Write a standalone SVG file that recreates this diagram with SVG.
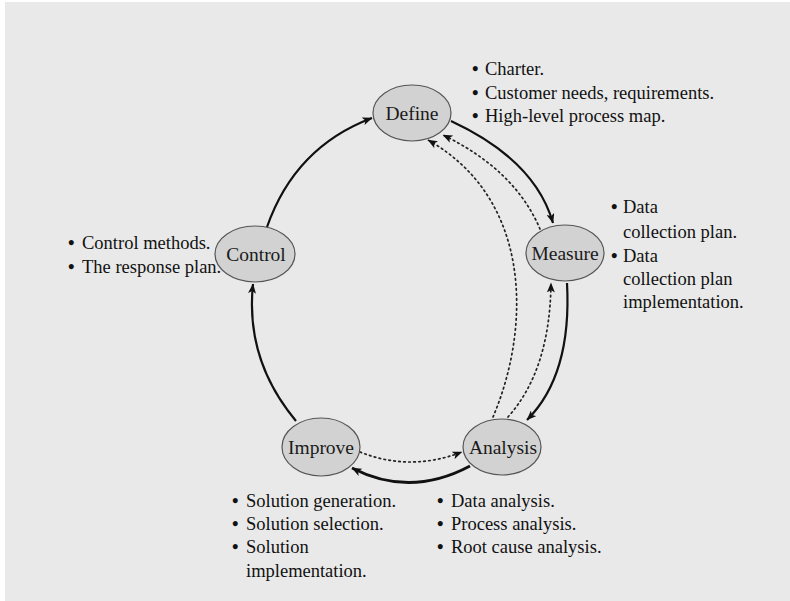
<svg xmlns="http://www.w3.org/2000/svg" width="790" height="601" viewBox="0 0 790 601">
  <defs>
    <marker id="arrow" viewBox="0 0 10 8" refX="9.5" refY="4" markerWidth="10" markerHeight="8" markerUnits="userSpaceOnUse" orient="auto">
      <path d="M0,0 L10,4 L0,8 L2.5,4 Z" fill="#111"/>
    </marker>
  </defs>
  <style>
    .bg { fill: #e9e9e9; }
    .node ellipse { fill: #d2d2d2; stroke: #555; stroke-width: 1.2; }
    .node text { font-family: "Liberation Serif", "DejaVu Serif", serif; font-size: 19.5px; fill: #1a1a1a; text-anchor: middle; }
    .notes text { font-family: "Liberation Serif", "DejaVu Serif", serif; font-size: 18.5px; fill: #111; }
    .notes text.b { font-size: 18.5px; font-weight: bold; }
    .solid { fill: none; stroke: #111; stroke-width: 2.2; marker-end: url(#arrow); }
    .dotted { fill: none; stroke: #222; stroke-width: 1.7; stroke-dasharray: 1.6 3.4; stroke-linecap: round; marker-end: url(#arrow); }
  </style>

  <rect x="0" y="0" width="790" height="601" fill="#ffffff"/>
  <rect class="bg" x="5" y="2" width="785" height="599"/>

  <!-- connectors -->
  <g id="connectors">
    <path class="solid" d="M267 227 Q295 147 372 118"/>
    <path class="solid" d="M451 121 Q535 160 553 223"/>
    <path class="solid" d="M567 283 Q572 375 527 420"/>
    <path class="solid" style="stroke-width:2.8" d="M470 466 Q410 498 352 468"/>
    <path class="solid" d="M296 421 Q245 360 253 284"/>
    <path class="dotted" d="M540 229 Q515 170 443 135"/>
    <path class="dotted" d="M493 417 C530 330 534 200 428 140"/>
    <path class="dotted" d="M508 417 Q550 370 551 283"/>
    <path class="dotted" d="M360 452 Q410 472 462 452"/>
  </g>

  <!-- nodes -->
  <g id="define" class="node">
    <ellipse cx="412" cy="113" rx="39" ry="28"/>
    <text x="412" y="120">Define</text>
  </g>
  <g id="measure" class="node">
    <ellipse cx="565" cy="253" rx="39" ry="28"/>
    <text x="565" y="260">Measure</text>
  </g>
  <g id="analysis" class="node">
    <ellipse cx="502" cy="447" rx="39" ry="28"/>
    <text x="503" y="454">Analysis</text>
  </g>
  <g id="improve" class="node">
    <ellipse cx="321" cy="447" rx="39" ry="29"/>
    <text x="321" y="454">Improve</text>
  </g>
  <g id="control" class="node">
    <ellipse cx="255" cy="254" rx="40" ry="28"/>
    <text x="256" y="261">Control</text>
  </g>

  <!-- notes beside each phase -->
  <g id="define-notes" class="notes">
    <text class="b" x="472" y="75">•</text><text x="485" y="75">Charter.</text>
    <text class="b" x="472" y="99">•</text><text x="485" y="99">Customer needs, requirements.</text>
    <text class="b" x="472" y="122">•</text><text x="485" y="122">High-level process map.</text>
  </g>
  <g id="measure-notes" class="notes">
    <text class="b" x="611" y="213">•</text><text x="623" y="213">Data</text>
    <text x="623" y="238">collection plan.</text>
    <text class="b" x="611" y="262">•</text><text x="623" y="262">Data</text>
    <text x="623" y="285">collection plan</text>
    <text x="623" y="308">implementation.</text>
  </g>
  <g id="control-notes" class="notes">
    <text class="b" x="68" y="249">•</text><text x="82" y="249">Control methods.</text>
    <text class="b" x="68" y="273">•</text><text x="82" y="273">The response plan.</text>
  </g>
  <g id="improve-notes" class="notes">
    <text class="b" x="232" y="507">•</text><text x="246" y="507">Solution generation.</text>
    <text class="b" x="232" y="530">•</text><text x="246" y="530">Solution selection.</text>
    <text class="b" x="232" y="553">•</text><text x="246" y="553">Solution</text>
    <text x="246" y="577">implementation.</text>
  </g>
  <g id="analysis-notes" class="notes">
    <text class="b" x="437" y="507">•</text><text x="451" y="507">Data analysis.</text>
    <text class="b" x="437" y="530">•</text><text x="451" y="530">Process analysis.</text>
    <text class="b" x="437" y="553">•</text><text x="451" y="553">Root cause analysis.</text>
  </g>
</svg>
